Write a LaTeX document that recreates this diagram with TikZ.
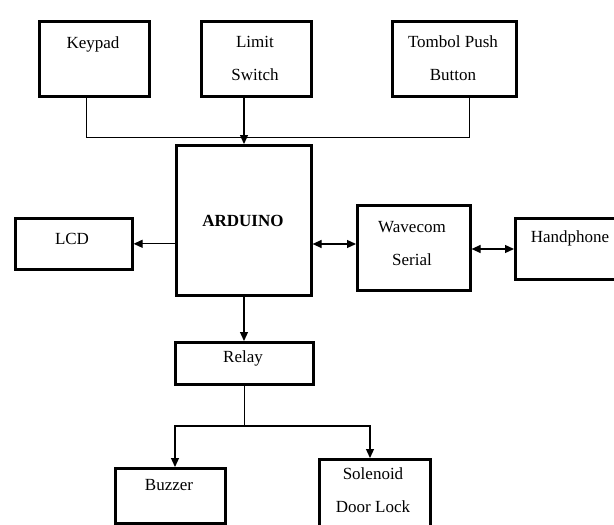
\documentclass[tikz,border=0pt]{standalone}
\usepackage{fontspec}
\setmainfont{Liberation Serif}
\usetikzlibrary{arrows.meta}
\begin{document}
\begin{tikzpicture}[x=1pt,y=-1pt,
  box/.style={draw=black,line width=2.6pt,anchor=north west,inner sep=0pt},
  lbl/.style={font=\fontsize{17}{33}\selectfont,align=center,inner sep=0pt},
  wire/.style={line width=0.8pt},
  arr/.style={line width=1.2pt,-{Triangle[length=9pt,width=8pt]}},
  darr/.style={line width=1.2pt,{Triangle[length=9pt,width=8pt]}-{Triangle[length=9pt,width=8pt]}}]
\useasboundingbox (0,0) rectangle (614,525);
% boxes
\node[box,minimum width=110,minimum height=75] (keypad) at (38,20) {};
\node[box,minimum width=110,minimum height=75] (limit) at (200,20) {};
\node[box,minimum width=124,minimum height=75] (tombol) at (391,20) {};
\node[box,minimum width=135,minimum height=150] (arduino) at (175,144) {};
\node[box,minimum width=117,minimum height=51] (lcd) at (14,217) {};
\node[box,minimum width=113,minimum height=85] (wavecom) at (356,204) {};
\node[box,minimum width=112,minimum height=61] (handphone) at (514,217) {};
\node[box,minimum width=138,minimum height=42] (relay) at (174,341) {};
\node[box,minimum width=110,minimum height=55] (buzzer) at (114,467) {};
\node[box,minimum width=111,minimum height=80] (solenoid) at (318,458) {};
% labels
\node[lbl] (tkeypad) at (93,44) {Keypad};
\node[lbl] (tlimit) at (255,58) {Limit\\Switch};
\node[lbl] (ttombol) at (453,58) {Tombol Push\\Button};
\node[lbl,font=\fontsize{17}{20}\selectfont\bfseries] (tarduino) at (243,221) {ARDUINO};
\node[lbl] (tlcd) at (72,239) {LCD};
\node[lbl] (twavecom) at (412,243.5) {Wavecom\\Serial};
\node[lbl] (thandphone) at (570,238) {Handphone};
\node[lbl] (trelay) at (243,358) {Relay};
\node[lbl] (tbuzzer) at (169,485) {Buzzer};
\node[lbl] (tsolenoid) at (373,490.5) {Solenoid\\Door Lock};
% connectors
\coordinate (axis) at (244,0);
\coordinate (busL) at (86,137);
\coordinate (busR) at (469,137);
\draw[wire] (keypad.south -| busL) -- (busL) -- (busR) -- (tombol.south -| busR);
\draw[arr] (limit.south -| axis) -- (arduino.north -| axis);
\draw[arr] (lcd.east -| arduino.west) -- (lcd.east);
\draw[darr] (arduino.east |- 0,244) -- (wavecom.west |- 0,244);
\draw[darr] (wavecom.east |- 0,249) -- (handphone.west |- 0,249);
\draw[arr] (arduino.south -| axis) -- (relay.north -| axis);
\coordinate (split) at (244,426);
\draw[wire] (relay.south -| axis) -- (split);
\draw[arr] (split) -| (175,467);
\draw[arr] (split) -| (370,458);
\end{tikzpicture}
\end{document}
